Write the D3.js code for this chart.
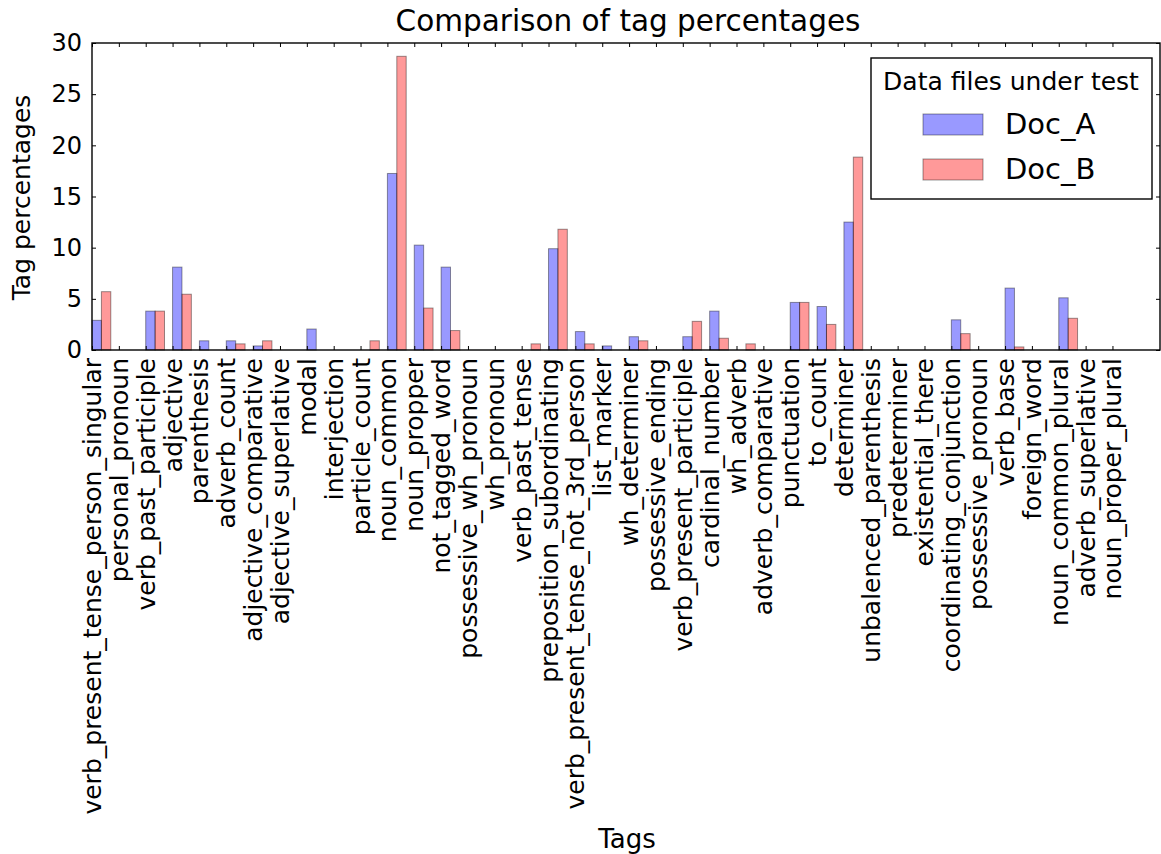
<!DOCTYPE html>
<html>
<head>
<meta charset="utf-8">
<script src="https://cdn.jsdelivr.net/npm/d3@7"></script>
<style>
  html, body { margin: 0; padding: 0; background: #fff; }
  svg { display: block; }
  text { font-family: "DejaVu Sans", sans-serif; fill: #000; }
</style>
</head>
<body>
<svg id="chart" width="1161" height="854"></svg>
<script>
// Part-of-speech tags compared across two documents
const tags = [
  "verb_present_tense_person_singular", "personal_pronoun", "verb_past_participle",
  "adjective", "parenthesis", "adverb_count", "adjective_comparative",
  "adjective_superlative", "modal", "interjection", "particle_count", "noun_common",
  "noun_propper", "not_tagged_word", "possessive_wh_pronoun", "wh_pronoun",
  "verb_past_tense", "preposition_subordinating", "verb_present_tense_not_3rd_person",
  "list_marker", "wh_determiner", "possessive_ending", "verb_present_participle",
  "cardinal_number", "wh_adverb", "adverb_comparative", "punctuation", "to_count",
  "determiner", "unbalenced_parenthesis", "predeterminer", "existential_there",
  "coordinating_conjunction", "possessive_pronoun", "verb_base", "foreign_word",
  "noun_common_plural", "adverb_superlative", "noun_proper_plural"
];

const docA = [
  2.9, 0, 3.8, 8.1, 0.9, 0.9, 0.4, 0, 2.05, 0, 0, 17.25,
  10.25, 8.1, 0, 0, 0, 9.9, 1.8, 0.4, 1.3, 0, 1.3,
  3.8, 0, 0, 4.65, 4.25, 12.5, 0, 0, 0,
  2.95, 0, 6.05, 0, 5.1, 0, 0
];

const docB = [
  5.7, 0, 3.8, 5.45, 0, 0.6, 0.9, 0, 0, 0, 0.9, 28.7,
  4.1, 1.9, 0, 0, 0.6, 11.8, 0.6, 0, 0.9, 0, 2.8,
  1.15, 0.6, 0, 4.65, 2.5, 18.85, 0, 0, 0,
  1.6, 0, 0.3, 0, 3.1, 0, 0
];

const yTicks = [0, 5, 10, 15, 20, 25, 30];
const seriesNames = ["Doc_A", "Doc_B"];
const seriesColors = ["#0000ff", "#ff0000"];

const barWidth = 0.35;
const plotL = 92, plotR = 1160, plotT = 43, plotB = 350;

const svg = d3.select("#chart");

const x = d3.scaleLinear().domain([0, 39.77]).range([plotL, plotR]);
const y = d3.scaleLinear().domain([0, 30]).range([plotB, plotT]);

// Bars: Doc_A starts at the tag index, Doc_B right next to it
const series = [docA, docB];
series.forEach((vals, si) => {
  svg.append("g")
    .selectAll("rect")
    .data(vals)
    .join("rect")
    .attr("x", (d, i) => x(i + si * barWidth))
    .attr("width", x(barWidth) - x(0))
    .attr("y", d => y(d))
    .attr("height", d => y(0) - y(d))
    .attr("fill", seriesColors[si])
    .attr("fill-opacity", 0.4)
    .attr("stroke", "#000")
    .attr("stroke-opacity", 0.4)
    .attr("stroke-width", 1);
});

// Axes with inward ticks on all four sides
const tickIdx = d3.range(tags.length);
const xBottom = d3.axisBottom(x).tickValues(tickIdx).tickSize(-4)
  .tickFormat(i => tags[i]);
const gxb = svg.append("g").attr("transform", `translate(0,${plotB})`).call(xBottom);
gxb.select(".domain").remove();
gxb.selectAll(".tick text")
  .attr("font-size", 25)
  .attr("text-anchor", "end")
  .attr("dominant-baseline", "central")
  .attr("transform", "rotate(-90)")
  .attr("x", -8)
  .attr("y", 0)
  .attr("dy", null);

const xTop = d3.axisTop(x).tickValues(tickIdx).tickSize(-4).tickFormat("");
const gxt = svg.append("g").attr("transform", `translate(0,${plotT})`).call(xTop);
gxt.select(".domain").remove();

const yLeft = d3.axisLeft(y).tickValues(yTicks).tickSize(-4).tickPadding(10);
const gyl = svg.append("g").attr("transform", `translate(${plotL},0)`).call(yLeft);
gyl.select(".domain").remove();
gyl.selectAll(".tick text").attr("font-size", 24);

const yRight = d3.axisRight(y).tickValues(yTicks).tickSize(-4).tickFormat("");
const gyr = svg.append("g").attr("transform", `translate(${plotR},0)`).call(yRight);
gyr.select(".domain").remove();

// Frame
svg.append("rect")
  .attr("x", plotL).attr("y", plotT)
  .attr("width", plotR - plotL).attr("height", plotB - plotT)
  .attr("fill", "none").attr("stroke", "#000").attr("stroke-width", 1.4);

// Titles
svg.append("text")
  .attr("x", 628).attr("y", 31)
  .attr("text-anchor", "middle")
  .attr("font-size", 29.5)
  .text("Comparison of tag percentages");

svg.append("text")
  .attr("transform", `translate(30,${(plotT + plotB) / 2 + 1}) rotate(-90)`)
  .attr("text-anchor", "middle")
  .attr("font-size", 25)
  .text("Tag percentages");

svg.append("text")
  .attr("x", 627).attr("y", 848)
  .attr("text-anchor", "middle")
  .attr("font-size", 26)
  .text("Tags");

// Legend
const lg = svg.append("g");
lg.append("rect")
  .attr("x", 871).attr("y", 58)
  .attr("width", 281).attr("height", 141)
  .attr("fill", "#fff").attr("stroke", "#000").attr("stroke-width", 1.4);
lg.append("text")
  .attr("x", 1011).attr("y", 90)
  .attr("text-anchor", "middle")
  .attr("font-size", 25)
  .text("Data files under test");
seriesNames.forEach((name, i) => {
  const yy = 114 + i * 45;
  lg.append("rect")
    .attr("x", 923).attr("y", yy)
    .attr("width", 60).attr("height", 21)
    .attr("fill", seriesColors[i]).attr("fill-opacity", 0.4)
    .attr("stroke", "#000").attr("stroke-opacity", 0.4);
  lg.append("text")
    .attr("x", 1005).attr("y", yy + 20)
    .attr("font-size", 29)
    .text(name);
});
</script>
</body>
</html>
